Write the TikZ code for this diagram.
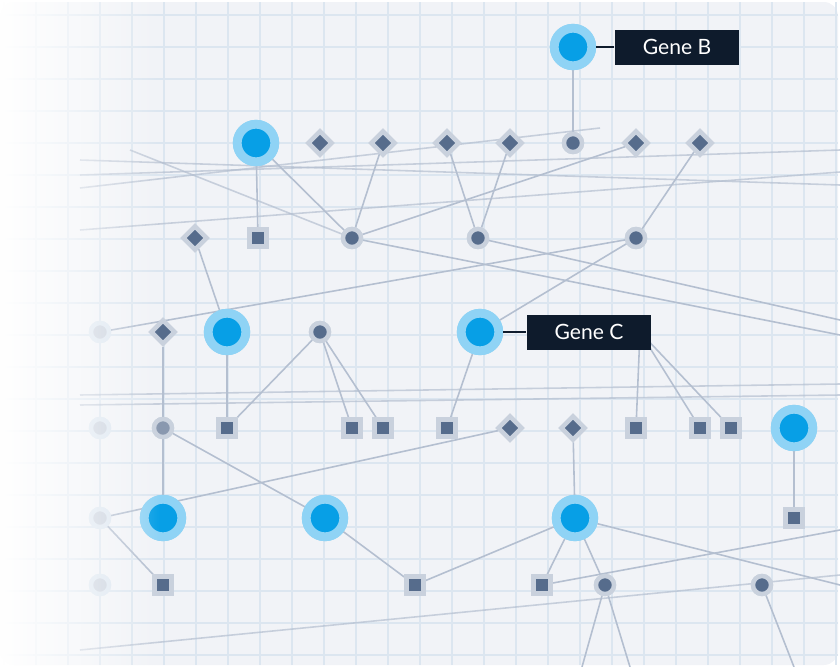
\documentclass[tikz,border=0pt]{standalone}
\usepackage{fontspec}
\setsansfont{Lato}
\usetikzlibrary{shapes.geometric,fadings}
\definecolor{bgc}{HTML}{F1F3F7}
\definecolor{gridc}{HTML}{DCE6F0}
\definecolor{edgec}{HTML}{B4BFD0}
\definecolor{nodec}{HTML}{566C8C}
\definecolor{ringc}{HTML}{C9D1DD}
\definecolor{genec}{HTML}{079FE6}
\definecolor{haloc}{HTML}{8FD3F5}
\definecolor{labc}{HTML}{0E1B2C}
\tikzset{
  hub/.style={circle, fill=nodec, draw=ringc, line width=2.5pt, minimum size=0.36cm, inner sep=0pt},
  box/.style={rectangle, fill=nodec, draw=ringc, line width=2.5pt, minimum size=0.34cm, inner sep=0pt},
  kite/.style={diamond, fill=nodec, draw=ringc, line width=2.5pt, minimum size=0.5cm, inner sep=0pt},
  ghost/.style={circle, fill=ringc, draw=gridc, line width=2.5pt, minimum size=0.36cm, inner sep=0pt},
  gene/.style={circle, fill=genec, draw=haloc, line width=5pt, minimum size=0.75cm, inner sep=0pt},
  tag/.style={rectangle, fill=labc, text=white, font=\sffamily\large, minimum height=0.7cm, minimum width=2.5cm},
  link/.style={edgec, line width=0.9pt},
}
\begin{document}
\begin{tikzpicture}[x=0.02cm, y=-0.02cm]
\useasboundingbox (0,0) rectangle (840,667);
\fill[bgc, rounded corners=8pt] (0,2) rectangle (838,665);
% grid
\foreach \x in {4,36,...,836}
  \draw[gridc, line width=0.6pt] (\x,2) -- (\x,665);
\foreach \y in {15,47,...,660}
  \draw[gridc, line width=0.6pt] (0,\y) -- (838,\y);
% long faint lines
\draw[link, opacity=0.7] (80,175) -- (840,150);
\draw[link, opacity=0.7] (80,188) -- (600,128);
\draw[link, opacity=0.7] (80,230) -- (840,172);
\draw[link, opacity=0.7] (80,160) -- (840,185);
\draw[link, opacity=0.7] (80,395) -- (840,384);
\draw[link, opacity=0.7] (80,405) -- (840,395);
\draw[link, opacity=0.7] (80,650) -- (840,575);
\draw[link, opacity=0.7] (130,150) -- (352,238);
% nodes
\node[gene] (gb) at (573,47) {};
\node[gene] (g1) at (256,143) {};
\node[kite] (d1) at (320,143) {};
\node[kite] (d2) at (383,143) {};
\node[kite] (d3) at (447,143) {};
\node[kite] (d4) at (510,143) {};
\node[hub] (c1) at (573,143) {};
\node[kite] (d5) at (636,143) {};
\node[kite] (d6) at (700,143) {};
\node[kite] (d7) at (195,238) {};
\node[box] (s1) at (258,238) {};
\node[hub] (c2) at (352,238) {};
\node[hub] (c3) at (478,238) {};
\node[hub] (c4) at (636,238) {};
\node[ghost] (f1) at (100,332) {};
\node[kite] (d8) at (163,332) {};
\node[gene] (g2) at (227,332) {};
\node[hub] (c5) at (320,332) {};
\node[gene] (gc) at (480,332) {};
\coordinate (hid) at (640,332);
\node[ghost] (f2) at (100,428) {};
\node[hub, fill=nodec!70] (c6) at (163,428) {};
\node[box] (s2) at (227,428) {};
\node[box] (s3) at (352,428) {};
\node[box] (s4) at (383,428) {};
\node[box] (s5) at (447,428) {};
\node[kite] (d9) at (510,428) {};
\node[kite] (d10) at (573,428) {};
\node[box] (s6) at (636,428) {};
\node[box] (s7) at (700,428) {};
\node[box] (s8) at (731,428) {};
\node[gene] (g3) at (794,428) {};
\node[ghost] (f3) at (100,518) {};
\node[gene] (g4) at (163,518) {};
\node[gene] (g5) at (325,518) {};
\node[gene] (g6) at (575,518) {};
\node[box] (s9) at (794,518) {};
\node[ghost] (f4) at (100,585) {};
\node[box] (s10) at (163,585) {};
\node[box] (s11) at (415,585) {};
\node[box] (s12) at (542,585) {};
\node[hub] (c7) at (605,585) {};
\node[hub] (c8) at (762,585) {};
\coordinate (e1) at (840,335);
\coordinate (e2) at (840,320);
\coordinate (e3) at (840,585);
\coordinate (e4) at (630,667);
\coordinate (e5) at (582,667);
\coordinate (e6) at (794,667);
\coordinate (e7) at (840,530);
% connectors
\foreach \a/\b in {gb/c1, g1/s1, g1/c2, d2/c2, d3/c3, d4/c3, d6/c4, c4/gc, d7/g2, g2/s2, c5/s2, c5/s3, c5/s4, gc/s5,
  hid/s6, hid/s7, hid/s8, d8/c6, c6/g4, c6/g5, g3/s9, d10/g6, g6/s12, g6/c7, g5/s11, s11/g6, f3/d9, f3/s10,
  c2/e1, c3/e2, g6/e3, c7/e4, c7/e5, c8/e6, s12/e7, f1/c4, d5/c2}
  \draw[link] (\a) -- (\b);
% redraw nodes on top
\foreach \n in {gb,g1,g2,gc,g3,g4,g5,g6}
  \node[gene] at (\n) {};
\foreach \n in {d1,d2,d3,d4,d5,d6,d7,d8,d9,d10}
  \node[kite] at (\n) {};
\foreach \n in {s1,s2,s3,s4,s5,s6,s7,s8,s9,s10,s11,s12}
  \node[box] at (\n) {};
\foreach \n in {c1,c2,c3,c4,c5,c7,c8}
  \node[hub] at (\n) {};
\node[hub, fill=nodec!70] at (c6) {};
\foreach \n in {f1,f2,f3,f4}
  \node[ghost] at (\n) {};
% labels
\node[tag] (lb) at (677,47) {Gene B};
\node[tag] (lc) at (589,332) {Gene C};
\draw[labc, line width=1.2pt] (gb) -- (lb);
\draw[labc, line width=1.2pt] (gc) -- (lc);
% left fade
\fill[white, path fading=east] (0,0) rectangle (160,667);
\end{tikzpicture}
\end{document}
